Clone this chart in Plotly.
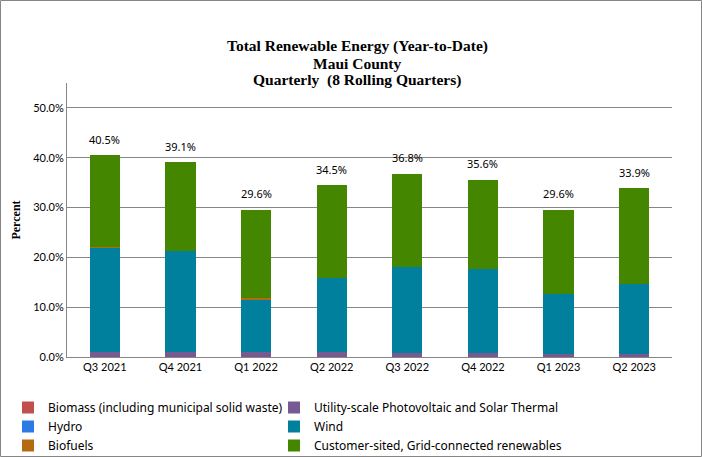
import plotly.graph_objects as go

quarters = ["Q3 2021", "Q4 2021", "Q1 2022", "Q2 2022", "Q3 2022", "Q4 2022", "Q1 2023", "Q2 2023"]
biomass = [0.0, 0.0, 0.0, 0.0, 0.0, 0.0, 0.0, 0.0]
utility_pv = [1.0, 1.0, 1.0, 0.95, 0.8, 0.8, 0.7, 0.7]
hydro = [0.0, 0.0, 0.0, 0.0, 0.0, 0.0, 0.0, 0.0]
wind = [20.9, 20.3, 10.5, 15.0, 17.3, 16.9, 12.0, 14.0]
biofuels = [0.2, 0.0, 0.35, 0.0, 0.0, 0.0, 0.0, 0.0]
totals = [40.5, 39.1, 29.6, 34.5, 36.8, 35.6, 29.6, 33.9]
customer = [round(t - b - u - h - w - f, 2) for t, b, u, h, w, f in
            zip(totals, biomass, utility_pv, hydro, wind, biofuels)]
title_lines = ["Total Renewable Energy (Year-to-Date)", "Maui County", "Quarterly  (8 Rolling Quarters)"]

series = [
    ("Biomass (including municipal solid waste)", biomass, "#C0504D", "legend"),
    ("Utility-scale Photovoltaic and Solar Thermal", utility_pv, "#775A91", "legend2"),
    ("Hydro", hydro, "#2C7BE5", "legend"),
    ("Wind", wind, "#00809D", "legend2"),
    ("Biofuels", biofuels, "#B36A10", "legend"),
    ("Customer-sited, Grid-connected renewables", customer, "#458600", "legend2"),
]

fig = go.Figure()
for name, vals, color, lg in series:
    fig.add_trace(go.Bar(
        x=quarters, y=[v / 100 for v in vals], name=name, legend=lg,
        marker=dict(color=color, line=dict(width=0)),
        width=0.4, hoverinfo="skip",
    ))

for q, t in zip(quarters, totals):
    fig.add_annotation(x=q, y=t / 100, text=f"{t:.1f}%", showarrow=False,
                       yanchor="middle", yshift=16,
                       font=dict(family="Noto Sans, DejaVu Sans, sans-serif", size=11, color="#000000"))

L, R, T, B = 67, 30, 83, 100
W, H = 702, 457
pw, ph = W - L - R, H - T - B

def px_x(px):
    return (px - L) / pw

def px_y(py):
    return (H - B - py) / ph

for i, line in enumerate(title_lines):
    fig.add_annotation(xref="paper", yref="paper", x=px_x(357), y=px_y(46 + 17 * i),
                       xanchor="center", yanchor="middle", showarrow=False,
                       text=f"<b>{line}</b>",
                       font=dict(family="Liberation Serif, Times New Roman, serif", size=15.5, color="#000000"))

fig.add_shape(type="rect", xref="paper", yref="paper",
              x0=px_x(0.5), x1=px_x(701.5), y0=px_y(456.5), y1=px_y(0.5),
              line=dict(color="#868686", width=1), fillcolor="rgba(0,0,0,0)", layer="below")

legend_font = dict(family="Noto Sans, DejaVu Sans, sans-serif", size=12, color="#000000")

fig.update_layout(
    width=W, height=H,
    margin=dict(l=L, r=R, t=T, b=B, autoexpand=False),
    barmode="stack",
    plot_bgcolor="white", paper_bgcolor="white",
    yaxis=dict(
        range=[0, 0.55], tickvals=[0, 0.1, 0.2, 0.3, 0.4, 0.5], tickformat=".1%",
        showgrid=True, gridcolor="#868686", gridwidth=1,
        showline=True, linecolor="#868686", linewidth=1,
        zeroline=False, ticks="", ticklen=0,
        tickfont=dict(family="Lato, Noto Sans, sans-serif", size=11, color="#000000"),
        title=dict(text="<b>Percent</b>", standoff=10,
                   font=dict(family="Liberation Serif, Times New Roman, serif", size=12, color="#000000")),
    ),
    xaxis=dict(
        showline=True, linecolor="#868686", linewidth=1, showgrid=False,
        ticks="", tickfont=dict(family="Lato, Noto Sans, sans-serif", size=11, color="#000000"),
    ),
    legend=dict(
        orientation="v", x=px_x(8), xanchor="left", y=px_y(393), yanchor="top",
        traceorder="normal", font=legend_font,
        itemwidth=30, tracegroupgap=0, bgcolor="rgba(0,0,0,0)",
    ),
    legend2=dict(
        orientation="v", x=px_x(274), xanchor="left", y=px_y(393), yanchor="top",
        traceorder="normal", font=legend_font,
        itemwidth=30, tracegroupgap=0, bgcolor="rgba(0,0,0,0)",
    ),
    bargap=0.6,
)

fig.write_html("out.html", config={"displayModeBar": False},
               post_script="document.body.style.margin='0';document.body.style.overflow='hidden';")
